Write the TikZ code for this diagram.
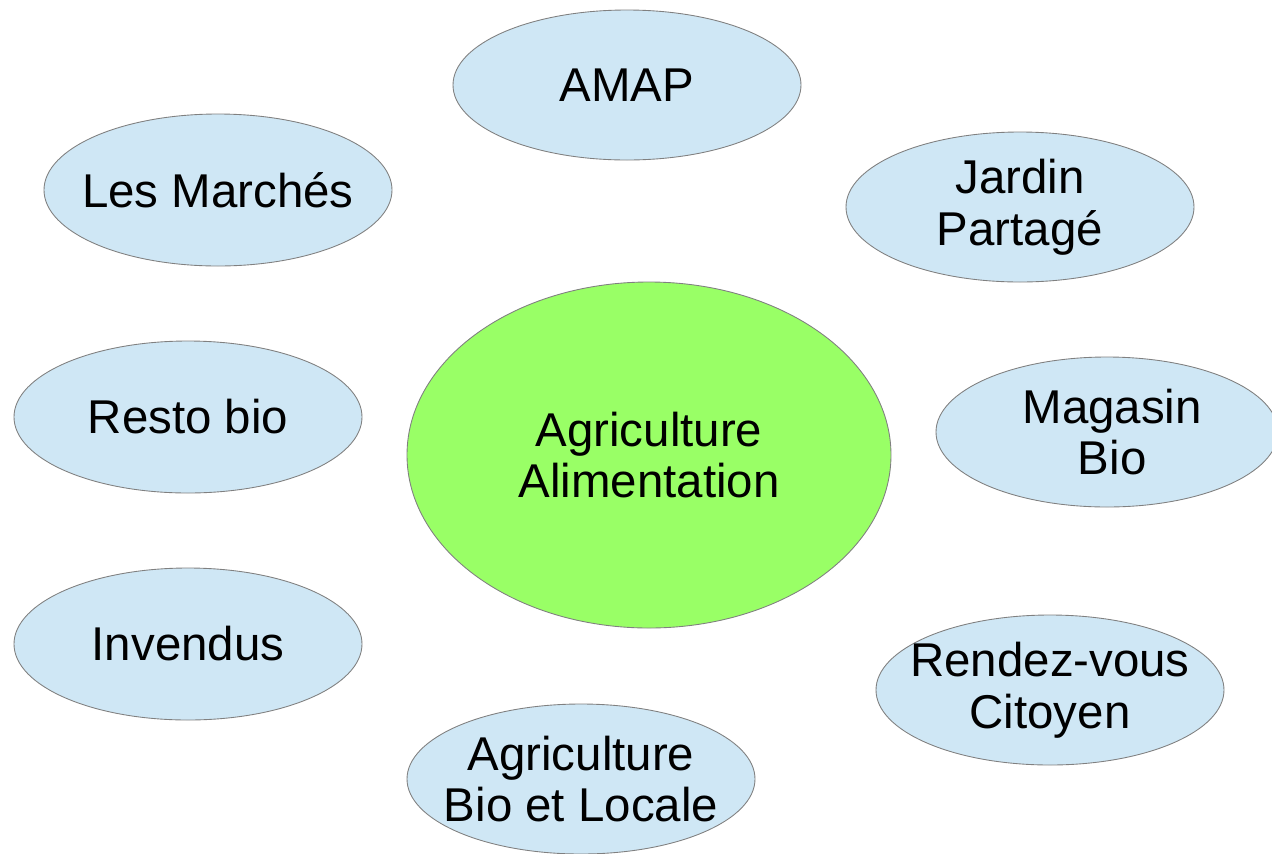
\documentclass[tikz,border=0pt]{standalone}
\usepackage{fontspec}
\setmainfont{Liberation Sans}
\definecolor{bleuclair}{RGB}{207,231,245}
\definecolor{vertpomme}{RGB}{153,255,102}
\tikzset{
	bulle/.style={draw=gray, fill=bleuclair, line width=0.5pt},
	coeur/.style={draw=gray, fill=vertpomme, line width=0.5pt},
	etiq/.style={align=center, font=\fontsize{27}{29.5}\selectfont}
}
\begin{document}
\begin{tikzpicture}[x=0.02cm, y=-0.02cm]
	\useasboundingbox (0,0) rectangle (1272,853);
	\clip (0,0) rectangle (1272,853);
	\filldraw[coeur] (649,455) ellipse [x radius=242, y radius=173] node[etiq] (agri) {Agriculture\\Alimentation};
	\filldraw[bulle] (627,85) ellipse [x radius=174, y radius=75] node[etiq] (amap) {AMAP};
	\filldraw[bulle] (218,190) ellipse [x radius=174, y radius=76] node[etiq] (marches) {Les Marchés};
	\filldraw[bulle] (1020,207) ellipse [x radius=174, y radius=75] node[etiq] (jardin) {Jardin\\Partagé};
	\filldraw[bulle] (188,417) ellipse [x radius=174, y radius=76] node[etiq] (resto) {Resto bio};
	\filldraw[bulle] (1107,432) ellipse [x radius=171, y radius=75] node[etiq, xshift=3] (magasin) {Magasin\\Bio};
	\filldraw[bulle] (188,644) ellipse [x radius=174, y radius=76] node[etiq] (invendus) {Invendus};
	\filldraw[bulle] (1050,690) ellipse [x radius=174, y radius=75] node[etiq] (rdv) {Rendez-vous\\Citoyen};
	\filldraw[bulle] (581,779) ellipse [x radius=174, y radius=75] node[etiq] (locale) {Agriculture\\Bio et Locale};
\end{tikzpicture}
\end{document}
